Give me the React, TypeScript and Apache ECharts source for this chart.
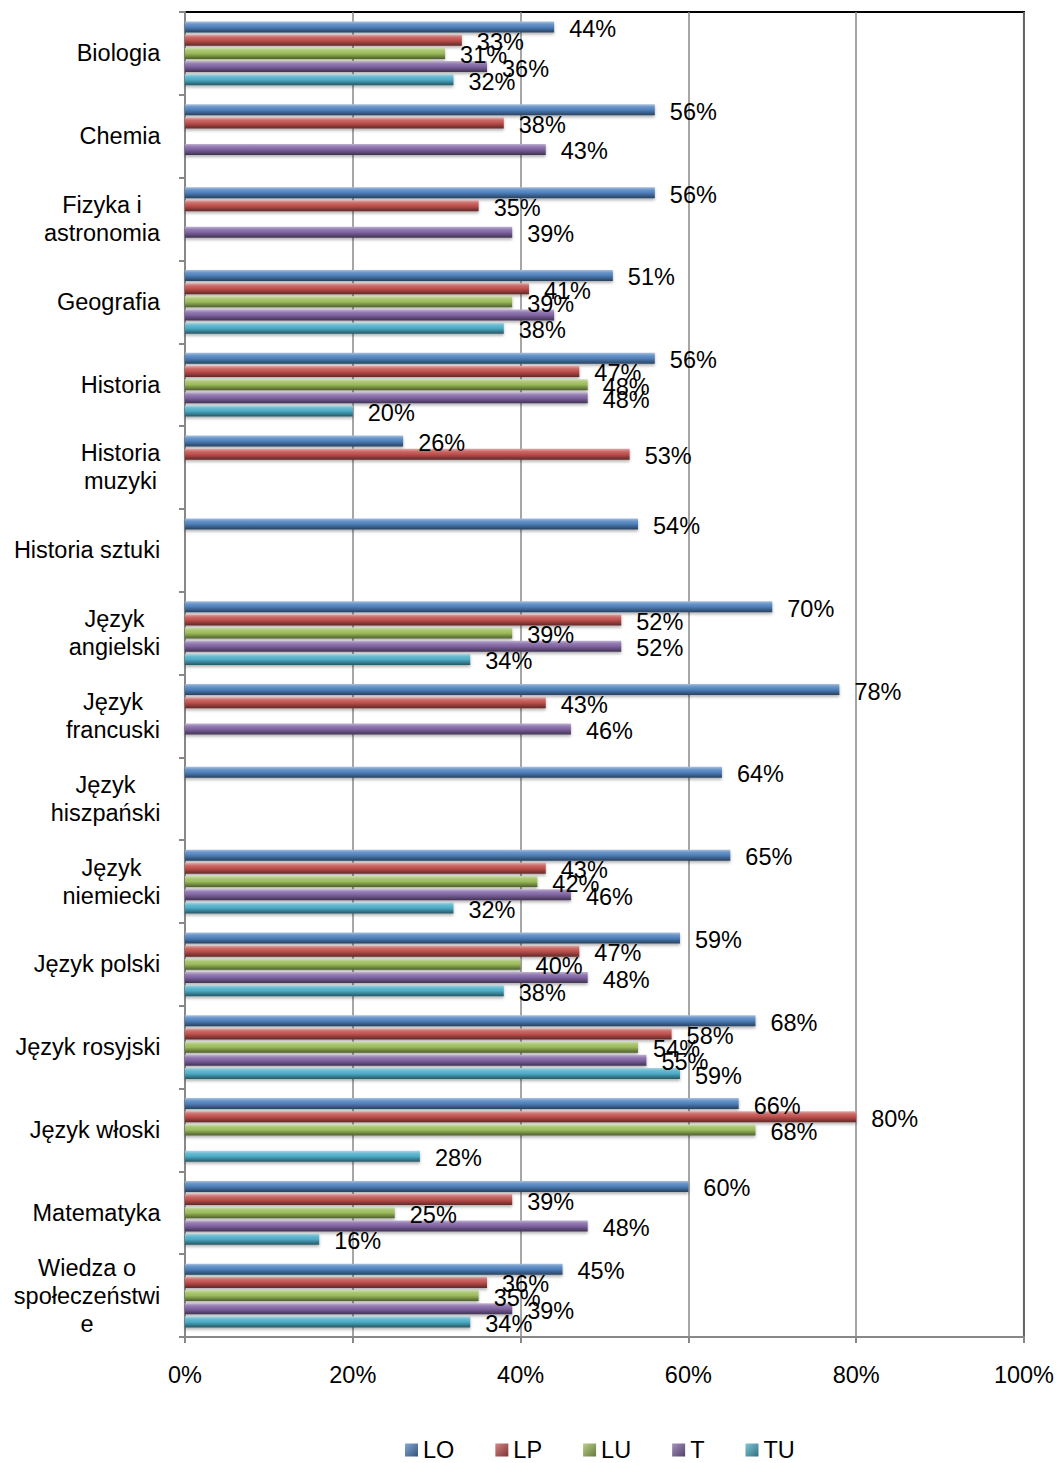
import React, { useEffect, useRef } from "react";
import * as echarts from "echarts";

const categories = [
  "Biologia",
  "Chemia",
  "Fizyka i\nastronomia",
  "Geografia",
  "Historia",
  "Historia\nmuzyki",
  "Historia sztuki",
  "Język\nangielski",
  "Język\nfrancuski",
  "Język\nhiszpański",
  "Język\nniemiecki",
  "Język polski",
  "Język rosyjski",
  "Język włoski",
  "Matematyka",
  "Wiedza o\nspołeczeństwi\ne",
];

const seriesNames = ["LO", "LP", "LU", "T", "TU"];

const LO = [44, 56, 56, 51, 56, 26, 54, 70, 78, 64, 65, 59, 68, 66, 60, 45];
const LP = [33, 38, 35, 41, 47, 53, null, 52, 43, null, 43, 47, 58, 80, 39, 36];
const LU = [31, null, null, 39, 48, null, null, 39, null, null, 42, 40, 54, 68, 25, 35];
const T = [36, 43, 39, 44, 48, null, null, 52, 46, null, 46, 48, 55, null, 48, 39];
const TU = [32, null, null, 38, 20, null, null, 34, null, null, 32, 38, 59, 28, 16, 34];

// labels not visible in the reference: [seriesIndex, categoryIndex]
const hiddenLabels: [number, number][] = [[3, 3]];

const xTicks = [0, 20, 40, 60, 80, 100];

const seriesData = [LO, LP, LU, T, TU];
const baseColors = ["#4F81BD", "#C0504D", "#9BBB59", "#8064A2", "#4BACC6"];

function shade(hex: string, f: number): string {
  const n = parseInt(hex.slice(1), 16);
  let r = (n >> 16) & 255, g = (n >> 8) & 255, b = n & 255;
  if (f >= 0) {
    r = r + (255 - r) * f; g = g + (255 - g) * f; b = b + (255 - b) * f;
  } else {
    r = r * (1 + f); g = g * (1 + f); b = b * (1 + f);
  }
  const h = (v: number) => Math.round(v).toString(16).padStart(2, "0");
  return "#" + h(r) + h(g) + h(b);
}

const FONT = '"Liberation Sans", Arial, sans-serif';
const FS = 23.5;

export default function App() {
  const ref = useRef<HTMLDivElement>(null);
  useEffect(() => {
    if (!ref.current) return;
    document.body.style.overflow = "hidden";
    const chart = echarts.init(ref.current, undefined, { renderer: "svg" });

    // measure category lines for centered multi-line labels
    const canvas = document.createElement("canvas");
    const ctx = canvas.getContext("2d")!;
    ctx.font = `${FS}px ${FONT}`;
    const rich: Record<string, any> = {};
    categories.forEach((c, i) => {
      const w = Math.max(...c.split("\n").map((l) => ctx.measureText(l).width));
      rich["c" + i] = {
        width: Math.ceil(w) + 1,
        align: "center",
        fontSize: FS,
        fontFamily: FONT,
        color: "#000",
        lineHeight: 28,
      };
    });

    const series = seriesNames.map((name, si) => {
      const base = baseColors[si];
      const grad = new echarts.graphic.LinearGradient(0, 0, 0, 1, [
        { offset: 0, color: shade(base, 0.5) },
        { offset: 0.25, color: shade(base, 0.15) },
        { offset: 0.5, color: base },
        { offset: 1, color: shade(base, -0.5) },
      ]);
      return {
        name,
        type: "bar",
        barWidth: 11,
        barGap: "20%",
        itemStyle: {
          color: grad,
          shadowBlur: 3,
          shadowOffsetY: 2,
          shadowColor: "rgba(0,0,0,0.3)",
        },
        label: {
          show: true,
          position: "right",
          distance: 15,
          offset: [0, 2],
          formatter: "{c}%",
          fontSize: FS,
          fontFamily: FONT,
          color: "#000",
        },
        data: seriesData[si].map((v, ci) =>
          v == null
            ? "-"
            : hiddenLabels.some(([s, c]) => s === si && c === ci)
            ? { value: v, label: { show: false } }
            : v
        ),
      };
    });

    chart.setOption({
      animation: false,
      color: baseColors,
      textStyle: { fontFamily: FONT },
      grid: {
        left: 185,
        right: 32,
        top: 12,
        bottom: 126,
        show: true,
        borderColor: "#000",
        borderWidth: 2,
      },
      legend: {
        left: 400,
        top: 1433,
        icon: "rect",
        itemWidth: 13,
        itemHeight: 13,
        itemGap: 41,
        textStyle: { fontSize: FS, fontFamily: FONT, color: "#000" },
        data: seriesNames.map((n, i) => ({
          name: n,
          itemStyle: {
            color: new echarts.graphic.LinearGradient(0, 0, 1, 1, [
              { offset: 0, color: shade(baseColors[i], 0.3) },
              { offset: 1, color: shade(baseColors[i], -0.35) },
            ]),
          },
        })),
      },
      xAxis: {
        type: "value",
        min: 0,
        max: 100,
        interval: 20,
        axisLine: { show: true, lineStyle: { color: "#888", width: 2 } },
        axisTick: { show: true, length: 6, lineStyle: { color: "#888", width: 2 } },
        splitLine: { show: true, lineStyle: { color: "#888", width: 1.5 } },
        axisLabel: {
          formatter: (v: number) => (xTicks.includes(v) ? v + "%" : ""),
          margin: 26,
          fontSize: FS,
          fontFamily: FONT,
          color: "#000",
        },
      },
      yAxis: {
        type: "category",
        inverse: true,
        data: categories,
        axisLine: { show: true, lineStyle: { color: "#888", width: 2 } },
        axisTick: { show: true, length: 6, lineStyle: { color: "#888", width: 2 } },
        axisLabel: {
          margin: 24,
          align: "right",
          formatter: (v: string) => {
            const i = categories.indexOf(v);
            return v.split("\n").map((l) => `{c${i}|${l}}`).join("\n");
          },
          rich,
        },
      },
      series,
    });
    return () => chart.dispose();
  }, []);
  return (
    <div
      ref={ref}
      style={{ position: "absolute", left: 0, top: 0, width: 1057, height: 1463 }}
    />
  );
}
